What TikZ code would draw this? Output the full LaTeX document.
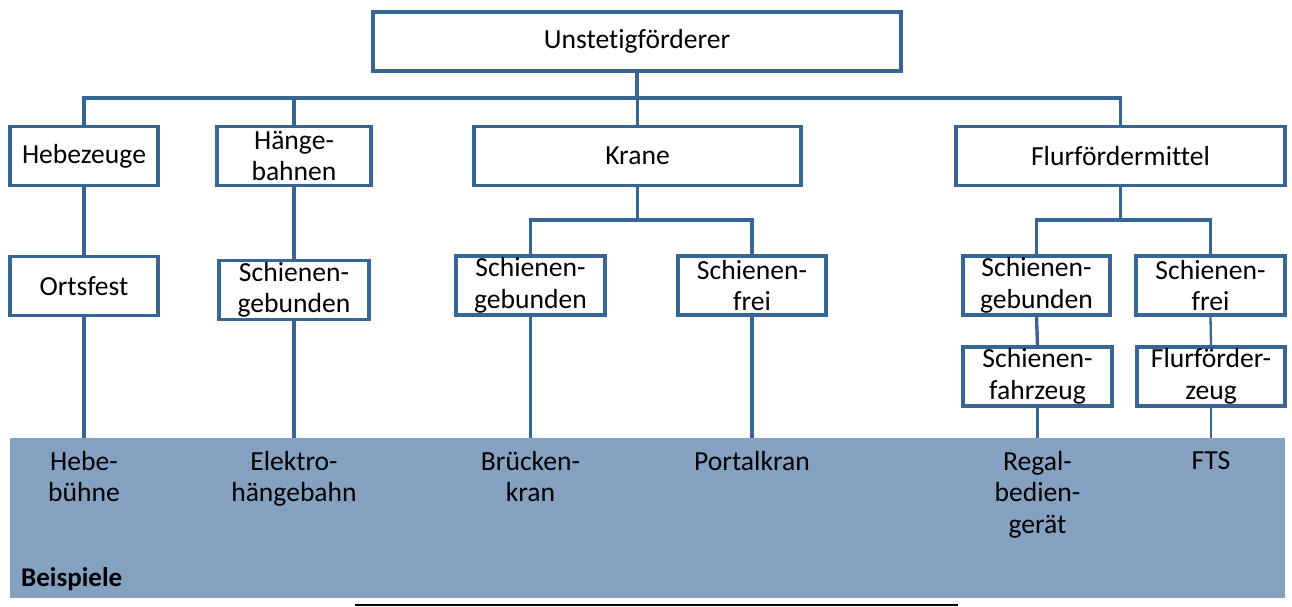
\documentclass[tikz,border=0pt]{standalone}
\usepackage{fontspec}
\setmainfont[Ligatures=NoCommon]{Carlito}
\usetikzlibrary{positioning}
\definecolor{lineblue}{HTML}{376594}
\definecolor{bandblue}{HTML}{84A1C1}

\begin{document}
\begin{tikzpicture}[
  x=1pt, y=-1pt,
  font=\fontsize{27.6}{31.5}\selectfont,
  % one pixel of the sheet is one point here, so sizes are read off directly
  box/.style={draw=lineblue, fill=white, line width=3.6pt, align=center,
    inner sep=0pt, minimum height=59pt},
  link/.style={draw=lineblue, line width=3.4pt},
  thinlink/.style={draw=lineblue, line width=2.3pt},
  band/.style={fill=bandblue, inner sep=0pt, minimum width=1275pt, minimum height=160pt},
  example/.style={anchor=north, align=center, inner sep=0pt}
]
\useasboundingbox (0,0) rectangle (1292,607);
\node[band] (band) at (647.5,518) {};
\node[anchor=base west, inner sep=0pt, font=\fontsize{27}{31}\selectfont\bfseries]
  (beisp) at (21,586) {Beispiele};

% top and second row
\node[box, minimum width=528pt] (top) at (637,41.5) {Unstetigförderer};
\node[box, minimum width=148pt] (heb) at (84,156) {Hebezeuge};
\node[box, minimum width=154pt] (haen) at (294,156) {Hänge-\\bahnen};
\node[box, minimum width=327pt] (kran) at (637.5,156) {Krane};
\node[box, minimum width=329pt] (flur) at (1120.5,156) {Flurfördermittel};

% third and fourth row
\node[box, minimum width=148pt, line width=3.2pt] (orts) at (84,286) {Ortsfest};
\node[box, minimum width=150pt, line width=3.2pt] (hsg) at (294,290) {Schienen-\\gebunden};
\node[box, minimum width=149pt, line width=3.2pt] (ksg) at (530.5,285.5) {Schienen-\\gebunden};
\node[box, minimum width=148pt, line width=3.2pt] (ksf) at (752,285.5) {Schienen-\\frei};
\node[box, minimum width=147pt, line width=3.2pt] (fsg) at (1036.5,285.5) {Schienen-\\gebunden};
\node[box, minimum width=149pt, line width=3.2pt] (fsf) at (1210.5,285.5) {Schienen-\\frei};
\node[box, minimum width=149pt, line width=3.2pt] (fsfz) at (1037.5,376.5) {Schienen-\\fahrzeug};
\node[box, minimum width=148pt, line width=3.2pt] (fflz) at (1211,376.5) {Flurförder-\\zeug};

% examples in the band
\node[example] (ex1) at ([yshift=-13pt]band.north -| orts) {Hebe-\\bühne};
\node[example] (ex2) at ([yshift=-13pt]band.north -| hsg) {Elektro-\\hängebahn};
\node[example] (ex3) at ([yshift=-13pt]band.north -| ksg) {Brücken-\\kran};
\node[example] (ex4) at ([yshift=-13pt]band.north -| ksf) {Portalkran};
\node[example] (ex5) at ([yshift=-13pt]band.north -| fsfz) {Regal-\\bedien-\\gerät};
\node[example] (ex6) at ([yshift=-14pt]band.north -| fflz) {FTS};

% buses
\coordinate (mainbus) at (637,98);
\coordinate (kranbus) at (637.5,220);
\coordinate (flurbus) at (1120.5,220);
\draw[link] (top.south) -- (mainbus);
\foreach \n in {heb,haen,kran,flur}
  \draw[link] (\n.north) |- (mainbus);
\draw[link] (kran.south) -- (kranbus);
\draw[link] (ksg.north) |- (kranbus);
\draw[link] (ksf.north) |- (kranbus);
\draw[link] (flur.south) -- (flurbus);
\draw[link] (fsg.north) |- (flurbus);
\draw[link] (fsf.north) |- (flurbus);
\draw[link] (heb.south) -- (orts.north);
\draw[link] (haen.south) -- (hsg.north);
\draw[link] (fsg.south) -- (fsfz.north);
\draw[thinlink] (fsf.south) -- (fflz.north);

% down to the examples
\draw[link] (orts.south) -- (orts.south |- band.north);
\draw[link] (hsg.south) -- (hsg.south |- band.north);
\draw[thinlink] (ksg.south) -- (ksg.south |- band.north);
\draw[link] (ksf.south) -- (ksf.south |- band.north);
\draw[link] (fsfz.south) -- (fsfz.south |- band.north);
\draw[thinlink] (fflz.south) -- (fflz.south |- band.north);

\coordinate (rulestart) at (355,605);
\coordinate (ruleend) at (958,605);
\draw[line width=2pt] (rulestart) -- (ruleend);
\end{tikzpicture}
\end{document}
